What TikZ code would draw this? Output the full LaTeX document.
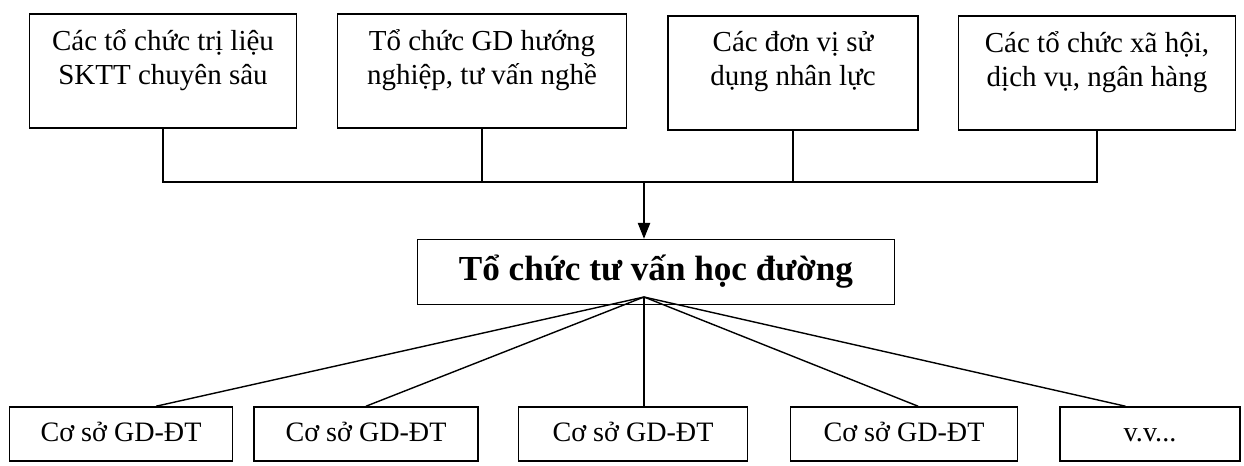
\documentclass[tikz,border=0pt]{standalone}
\usepackage{fontspec}
\setmainfont{Liberation Serif}
\usetikzlibrary{arrows.meta, positioning}

\newcommand{\toplines}[1]{\parbox[t][1.64cm][t]{5cm}{\centering #1}}

\begin{document}
\begin{tikzpicture}[
    x=0.02cm, y=-0.02cm,
    topbox/.style={rectangle, draw, line width=0.9pt, anchor=north, inner xsep=0pt, inner ysep=9pt, minimum height=2.28cm, font=\fontsize{16.5}{19}\selectfont},
    mainbox/.style={rectangle, draw, line width=0.9pt, minimum width=9.54cm, minimum height=1.3cm, font=\fontsize{20}{24}\selectfont\bfseries},
    basebox/.style={rectangle, draw, line width=0.9pt, minimum height=1.08cm, text height=11pt, text depth=3pt, font=\fontsize{16}{19}\selectfont},
    link/.style={line width=0.8pt},
    arrow/.style={-{Triangle[length=9pt, width=7pt]}, line width=0.8pt},
]
\useasboundingbox (0,0) rectangle (1244,466);
% upper row of partners
\node[topbox, minimum width=5.34cm] (therapy) at (163,13) {\toplines{Các tổ chức trị liệu\\SKTT chuyên sâu}};
\node[topbox, minimum width=5.78cm] (career) at (482,13) {\toplines{Tổ chức GD hướng\\nghiệp, tư vấn nghề}};
\node[topbox, minimum width=5.0cm] (employer) at (793,15) {\toplines{Các đơn vị sử\\dụng nhân lực}};
\node[topbox, minimum width=5.54cm] (social) at (1097,15) {\toplines{Các tổ chức xã hội,\\dịch vụ, ngân hàng}};
% central unit
\node[mainbox] (counsel) at (656,272) {Tổ chức tư vấn học đường};
% lower row of schools
\node[basebox, minimum width=4.46cm] (school1) at (121,434) {Cơ sở GD-ĐT};
\node[basebox, minimum width=4.48cm] (school2) at (366,434) {Cơ sở GD-ĐT};
\node[basebox, minimum width=4.58cm] (school3) at (633,434) {Cơ sở GD-ĐT};
\node[basebox, minimum width=4.54cm] (school4) at (904,434) {Cơ sở GD-ĐT};
\node[basebox, minimum width=3.6cm] (etc) at (1150,434) {v.v...};
\coordinate (bus) at (644,182);
\coordinate (hub) at (644,297);
% bus from the partners
\draw[link] (therapy.south) |- (social.south |- bus) -- (social.south);
\draw[link] (career.south) -- (career.south |- bus);
\draw[link] (employer.south) -- (employer.south |- bus);
\draw[arrow] (bus) -- (bus |- counsel.north);
% fan to the schools
\draw[link] (hub) -- ([xshift=20]school1.north);
\draw[link] (hub) -- (school2.north);
\draw[link] (hub) -- (hub |- school3.north);
\draw[link] (hub) -- ([xshift=8]school4.north);
\draw[link] (hub) -- ([xshift=-14]etc.north);
\end{tikzpicture}
\end{document}
